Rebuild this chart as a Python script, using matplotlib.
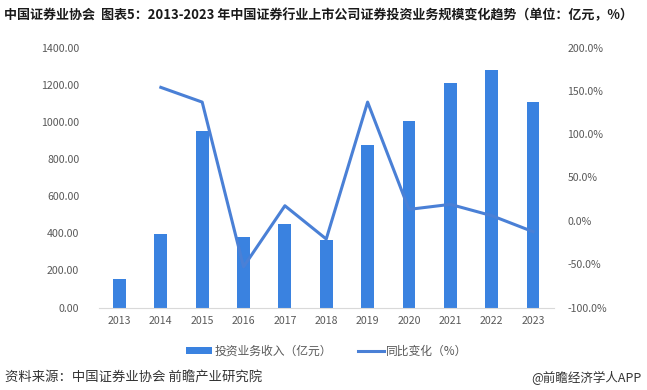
import matplotlib
matplotlib.use("Agg")
import matplotlib.pyplot as plt
from matplotlib.lines import Line2D
from matplotlib.patches import Patch
import numpy as np

plt.rcParams['font.family'] = ['Noto Sans CJK SC', 'DejaVu Sans']

years = ['2013', '2014', '2015', '2016', '2017', '2018', '2019', '2020', '2021', '2022', '2023']
income = [153, 396, 952, 380, 451, 365, 875, 1006, 1209, 1279, 1107]
yoy = [None, 154.0, 137.0, -53.0, 17.4, -21.0, 137.0, 13.2, 19.0, 6.0, -12.5]

left_ticks = [0, 200, 400, 600, 800, 1000, 1200, 1400]
right_ticks = [-100, -50, 0, 50, 100, 150, 200]

title = '中国证券业协会  图表5：2013-2023 年中国证券行业上市公司证券投资业务规模变化趋势（单位：亿元，%）'
bar_label = '投资业务收入（亿元）'
line_label = '同比变化（%）'
source = '资料来源：中国证券业协会 前瞻产业研究院'
brand = '@前瞻经济学人APP'

bar_color = '#3A82E0'
line_color = '#4A80D6'
tick_color = '#595959'

fig = plt.figure(figsize=(6.47, 3.90), dpi=100)
W, H = 647, 390
x0, x1 = 98.8, 553.7
y_top, y_bot = 47.5, 307.5
ax = fig.add_axes([x0 / W, 1 - y_bot / H, (x1 - x0) / W, (y_bot - y_top) / H])
x = np.arange(len(years))
ax.bar(x, income, width=0.31, color=bar_color, zorder=2)
ax.set_xlim(-0.5, len(years) - 0.5)
ax.set_ylim(0, 1400)
ax.set_yticks(left_ticks)
ax.set_yticklabels([f'{v:.2f}' for v in left_ticks])
ax.set_xticks(x)
ax.set_xticklabels(years)
for s in ['top', 'right', 'left']:
    ax.spines[s].set_visible(False)
ax.spines['bottom'].set_color('#D9D9D9')
ax.tick_params(axis='both', length=0, labelsize=7.6, colors=tick_color)
ax.tick_params(axis='y', pad=14)
ax.tick_params(axis='x', pad=6)

ax2 = ax.twinx()
xl = [i for i, v in enumerate(yoy) if v is not None]
yl = [v for v in yoy if v is not None]
ax2.plot(xl, yl, color=line_color, lw=2.2, zorder=3)
ax2.set_ylim(-100, 200)
ax2.set_yticks(right_ticks)
ax2.set_yticklabels([f'{v:.1f}%' for v in right_ticks])
for s in ['top', 'right', 'left', 'bottom']:
    ax2.spines[s].set_visible(False)
ax2.tick_params(axis='y', length=0, labelsize=7.6, colors=tick_color, pad=10)

fig.text(4 / W, 1 - 15 / H, title, fontsize=9.4, fontweight='bold', color='#1a1a1a',
         ha='left', va='center')

handles = [Patch(facecolor=bar_color, edgecolor='none'),
           Line2D([0], [0], color=line_color, lw=2.2)]
fig.legend(handles, [bar_label, line_label], loc='center', bbox_to_anchor=(327 / W, 1 - 351 / H),
           ncol=2, frameon=False, fontsize=8.5, handlelength=2.2, handleheight=0.6,
           columnspacing=2.2, handletextpad=0.2, labelcolor=tick_color)

fig.text(5 / W, 1 - 378 / H, source, fontsize=9.6, color='#333333', ha='left', va='center')
fig.text(642 / W, 1 - 378 / H, brand, fontsize=9, color='#333333', ha='right', va='center')

fig.savefig('out.png', dpi=100)
